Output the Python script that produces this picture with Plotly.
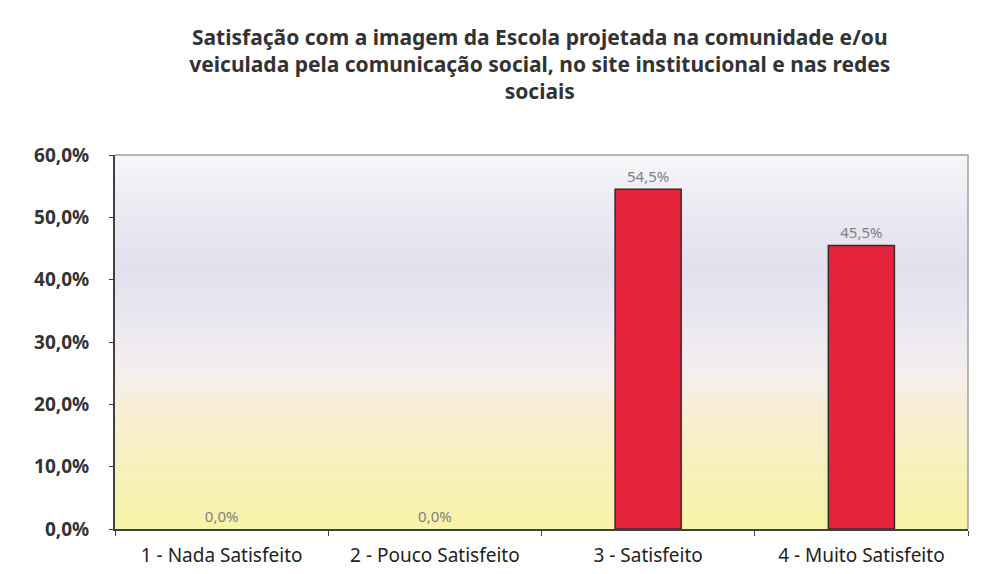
import plotly.graph_objects as go
import zlib, struct, base64

categories = ["1 - Nada Satisfeito", "2 - Pouco Satisfeito", "3 - Satisfeito", "4 - Muito Satisfeito"]
values = [0.0, 0.0, 54.5, 45.5]
y_ticks = [0, 10, 20, 30, 40, 50, 60]
y_tick_text = [f"{v:.1f}%".replace(".", ",") for v in y_ticks]
title_text = ("Satisfação com a imagem da Escola projetada na comunidade e/ou<br>"
              "veiculada pela comunicação social, no site institucional e nas redes<br>sociais")

# vertical background gradient (top -> bottom)
stops = [(0.0, (246, 246, 249)), (0.12, (236, 236, 244)), (0.3, (226, 224, 238)),
         (0.45, (236, 232, 240)), (0.58, (244, 239, 238)), (0.68, (248, 238, 214)),
         (0.82, (248, 240, 190)), (1.0, (248, 243, 168))]

def interp(t):
    for (t0, c0), (t1, c1) in zip(stops[:-1], stops[1:]):
        if t0 <= t <= t1:
            f = (t - t0) / (t1 - t0) if t1 > t0 else 0
            return tuple(int(round(a + (b - a) * f)) for a, b in zip(c0, c1))
    return stops[-1][1]

H = 200
raw = b"".join(b"\x00" + bytes(interp(i / (H - 1))) for i in range(H))
def chunk(tag, data):
    c = struct.pack(">I", len(data)) + tag + data
    return c + struct.pack(">I", zlib.crc32(tag + data) & 0xffffffff)
png = (b"\x89PNG\r\n\x1a\n" + chunk(b"IHDR", struct.pack(">IIBBBBB", 1, H, 8, 2, 0, 0, 0))
       + chunk(b"IDAT", zlib.compress(raw)) + chunk(b"IEND", b""))
bg_uri = "data:image/png;base64," + base64.b64encode(png).decode()

fig = go.Figure()
fig.add_trace(go.Bar(
    x=categories, y=values,
    marker=dict(color="#e5233d",
                line=dict(color="#3a2a2a", width=[1.5 if v > 0 else 0 for v in values])),
    texttemplate="%{y:.1f}%", textposition="outside",
    textfont=dict(family="Noto Sans", size=15, color="#808080"),
    cliponaxis=False,
))

fig.add_layout_image(dict(source=bg_uri, xref="paper", yref="paper", x=0, y=1,
                          sizex=1, sizey=1, sizing="stretch", layer="below"))

fig.update_layout(
    width=974, height=566,
    margin=dict(l=107, r=14, t=147, b=45, autoexpand=False),
    paper_bgcolor="white", plot_bgcolor="rgba(0,0,0,0)",
    separators=",.",
    bargap=0.69,
    showlegend=False,
    title=dict(text=title_text, x=0.546, xanchor="center", y=0.935, yanchor="top",
               font=dict(family="Noto Sans", size=21, color="#333333", weight="bold")),
    font=dict(family="Noto Sans", color="#333333"),
)
fig.update_xaxes(
    showline=True, linecolor="#404040", linewidth=2, mirror=False,
    ticks="outside", tickson="boundaries", ticklen=5, tickcolor="#404040",
    tickfont=dict(family="Noto Sans", size=19, color="#222222"),
    ticklabelstandoff=8,
    showgrid=False, automargin=False,
)
fig.update_yaxes(
    range=[0, 60], tickmode="array", tickvals=y_ticks, ticktext=y_tick_text,
    showline=True, linecolor="#404040", linewidth=2,
    ticks="outside", ticklen=4, tickcolor="#404040",
    tickfont=dict(family="Noto Sans", size=19, color="#333333", weight="bold"),
    ticklabelstandoff=16,
    showgrid=False, zeroline=False, automargin=False,
)
# thin frame on top and right
fig.add_shape(type="path", xref="paper", yref="paper",
              path="M 0 1 L 1 1 L 1 0", line=dict(color="#a0a0a0", width=1.5))

fig.write_html("out.html")
